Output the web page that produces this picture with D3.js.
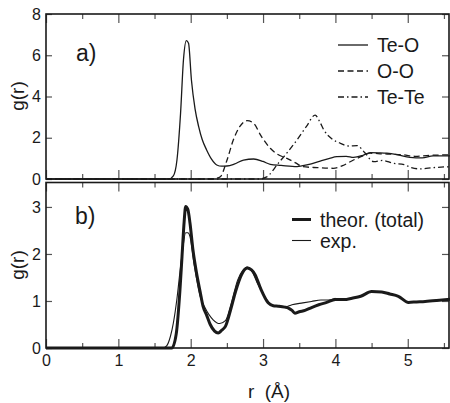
<!DOCTYPE html>
<html>
<head>
<meta charset="utf-8">
<script src="https://cdn.jsdelivr.net/npm/d3@7"></script>
<style>
  body { margin: 0; background: #fff; }
  svg { display: block; font-family: "Liberation Sans", Arial, sans-serif; }
</style>
</head>
<body>
<div id="chart"></div>
<script>
// panel a) partial pair correlations
const teoR = [0, 1.70, 1.76, 1.81, 1.86, 1.90, 1.94, 1.97, 2.01, 2.06, 2.11, 2.16, 2.22, 2.29, 2.36, 2.43, 2.50, 2.60, 2.73, 2.87, 3.00, 3.10, 3.25, 3.47, 3.62, 3.79, 3.92, 4.02, 4.15, 4.25, 4.38, 4.48, 4.60, 4.71, 4.85, 5.03, 5.20, 5.35, 5.60];
const teoG = [0, 0, 0.15, 0.92, 3.2, 5.78, 6.71, 6.58, 4.8, 3.4, 2.54, 1.9, 1.41, 0.95, 0.68, 0.62, 0.63, 0.72, 0.92, 0.97, 0.85, 0.71, 0.66, 0.60, 0.70, 0.87, 1.0, 1.08, 1.1, 1.05, 1.15, 1.28, 1.27, 1.25, 1.18, 1.05, 1.02, 1.12, 1.12];

const ooR = [0, 2.25, 2.35, 2.41, 2.50, 2.59, 2.68, 2.78, 2.87, 2.97, 3.10, 3.20, 3.33, 3.45, 3.55, 3.75, 3.97, 4.10, 4.25, 4.38, 4.48, 4.65, 4.80, 4.94, 5.10, 5.30, 5.60];
const ooG = [0, 0, 0.03, 0.11, 0.9, 1.9, 2.55, 2.83, 2.7, 2.1, 1.49, 1.2, 1.0, 0.78, 0.6, 0.55, 0.52, 0.65, 0.92, 1.12, 1.25, 1.22, 1.2, 1.17, 1.1, 1.15, 1.17];

const teteR = [0, 2.95, 3.05, 3.21, 3.35, 3.47, 3.60, 3.72, 3.78, 3.84, 3.95, 4.07, 4.18, 4.30, 4.40, 4.53, 4.65, 4.80, 4.95, 5.05, 5.17, 5.35, 5.60];
const teteG = [0, 0, 0.1, 0.76, 1.35, 1.9, 2.55, 3.1, 2.8, 2.38, 1.95, 1.73, 1.6, 1.62, 1.3, 0.84, 0.9, 0.76, 0.7, 0.55, 0.49, 0.55, 0.6];

// panel b) total g(r), theory vs experiment
const theorR = [0, 1.74, 1.80, 1.85, 1.88, 1.91, 1.93, 1.96, 1.99, 2.03, 2.08, 2.13, 2.17, 2.22, 2.27, 2.33, 2.38, 2.43, 2.48, 2.55, 2.62, 2.70, 2.78, 2.84, 2.89, 2.97, 3.07, 3.14, 3.21, 3.30, 3.35, 3.40, 3.44, 3.50, 3.58, 3.67, 3.77, 3.88, 4.00, 4.12, 4.23, 4.35, 4.50, 4.64, 4.75, 4.87, 5.01, 5.12, 5.24, 5.40, 5.60];
const theorG = [0, 0, 0.3, 1.2, 1.95, 2.7, 3.01, 2.95, 2.66, 2.1, 1.6, 1.2, 0.89, 0.7, 0.5, 0.36, 0.32, 0.38, 0.46, 0.8, 1.2, 1.55, 1.70, 1.66, 1.56, 1.25, 0.96, 0.9, 0.89, 0.87, 0.85, 0.8, 0.74, 0.77, 0.8, 0.86, 0.92, 0.97, 1.03, 1.03, 1.06, 1.1, 1.2, 1.19, 1.15, 1.1, 0.97, 0.98, 0.99, 1.01, 1.04];

const expR = [0, 1.62, 1.67, 1.72, 1.76, 1.81, 1.85, 1.89, 1.93, 1.96, 1.99, 2.05, 2.13, 2.20, 2.31, 2.40, 2.48, 2.56, 2.65, 2.72, 2.78, 2.85, 2.93, 3.02, 3.12, 3.22, 3.30, 3.40, 3.55, 3.67, 3.80, 3.90, 4.00];
const expG = [0, 0, 0.05, 0.25, 0.53, 1.05, 1.6, 2.1, 2.45, 2.45, 2.37, 1.75, 1.1, 0.85, 0.6, 0.52, 0.58, 0.95, 1.45, 1.65, 1.72, 1.62, 1.35, 1.1, 0.92, 0.88, 0.87, 0.92, 0.96, 0.99, 1.02, 1.02, 1.06];

const xTicks = [0, 1, 2, 3, 4, 5];
const xMinor = [0.5, 1.5, 2.5, 3.5, 4.5, 5.5];
const yTicksA = [0, 2, 4, 6, 8];
const yTicksB = [0, 1, 2, 3];

const W = 450, H = 403;
const ink = '#1a1a1a';
const svg = d3.select('#chart').append('svg').attr('width', W).attr('height', H);

const x = d3.scaleLinear().domain([0, 5.57]).range([46, 449]);
const yA = d3.scaleLinear().domain([0, 8]).range([179, 14]);
const yB = d3.scaleLinear().domain([0, 3.52]).range([348, 182.5]);

function zip(rs, gs) { return rs.map((r, i) => [r, gs[i]]); }

function panel(y, yTicks, showX) {
  const g = svg.append('g');
  const [y0, y1] = y.range();
  // ticks, all pointing inward
  g.append('g').attr('transform', 'translate(0,' + y0 + ')')
    .call(d3.axisBottom(x).tickValues(xTicks).tickSize(-9).tickPadding(7).tickFormat(showX ? d3.format('d') : ''));
  g.append('g').attr('transform', 'translate(0,' + y0 + ')')
    .call(d3.axisBottom(x).tickValues(xMinor).tickSize(-5).tickFormat(''));
  g.append('g').attr('transform', 'translate(0,' + y1 + ')')
    .call(d3.axisTop(x).tickValues(xTicks).tickSize(-9).tickFormat(''));
  g.append('g').attr('transform', 'translate(0,' + y1 + ')')
    .call(d3.axisTop(x).tickValues(xMinor).tickSize(-5).tickFormat(''));
  g.append('g').attr('transform', 'translate(' + x.range()[0] + ',0)')
    .call(d3.axisLeft(y).tickValues(yTicks).tickSize(-6).tickPadding(5).tickFormat(d3.format('d')));
  g.append('g').attr('transform', 'translate(' + x.range()[1] + ',0)')
    .call(d3.axisRight(y).tickValues(yTicks).tickSize(-7).tickFormat(''));
  g.selectAll('.domain').remove();
  g.selectAll('.tick line').attr('stroke', '#555').attr('stroke-width', 1.2);
  g.selectAll('.tick text').attr('font-size', 16).attr('fill', ink)
    .attr('font-family', '"Liberation Sans", Arial, sans-serif');
  g.append('rect')
    .attr('x', x.range()[0]).attr('y', y1)
    .attr('width', x.range()[1] - x.range()[0]).attr('height', y0 - y1)
    .attr('fill', 'none').attr('stroke', ink).attr('stroke-width', 1.6);
  return g;
}

const pa = panel(yA, yTicksA, false);
const pb = panel(yB, yTicksB, true);

const lineA = d3.line().x(d => x(d[0])).y(d => yA(d[1])).curve(d3.curveMonotoneX);
const lineB = d3.line().x(d => x(d[0])).y(d => yB(d[1])).curve(d3.curveMonotoneX);

const seriesA = [
  { name: 'Te-O', data: zip(teoR, teoG), dash: null },
  { name: 'O-O', data: zip(ooR, ooG), dash: '6,3.5' },
  { name: 'Te-Te', data: zip(teteR, teteG), dash: '6,3,1.5,3' }
];
seriesA.forEach(s => {
  pa.append('path').attr('d', lineA(s.data)).attr('fill', 'none')
    .attr('stroke', ink).attr('stroke-width', 1.3)
    .attr('stroke-dasharray', s.dash);
});

pb.append('path').attr('d', lineB(zip(expR, expG))).attr('fill', 'none')
  .attr('stroke', ink).attr('stroke-width', 1.1);
pb.append('path').attr('d', lineB(zip(theorR, theorG))).attr('fill', 'none')
  .attr('stroke', ink).attr('stroke-width', 3);

// legend a)
seriesA.forEach((s, i) => {
  const ly = 45 + i * 26;
  pa.append('line').attr('x1', 338).attr('x2', 368).attr('y1', ly).attr('y2', ly)
    .attr('stroke', ink).attr('stroke-width', 1.3).attr('stroke-dasharray', s.dash);
  pa.append('text').attr('x', 377).attr('y', ly + 7).attr('font-size', 19.5)
    .attr('fill', ink).text(s.name);
});

// legend b)
const legB = [{ name: 'theor. (total)', w: 3 }, { name: 'exp.', w: 1.1 }];
legB.forEach((s, i) => {
  const ly = 219.5 + i * 21;
  pb.append('line').attr('x1', 292).attr('x2', 311).attr('y1', ly).attr('y2', ly)
    .attr('stroke', ink).attr('stroke-width', s.w);
  pb.append('text').attr('x', 320).attr('y', ly + 7).attr('font-size', 19.5)
    .attr('fill', ink).text(s.name);
});

// panel labels
svg.append('text').attr('x', 76).attr('y', 61).attr('font-size', 23).attr('fill', ink).text('a)');
svg.append('text').attr('x', 75).attr('y', 224).attr('font-size', 23).attr('fill', ink).text('b)');

// axis titles
[[96, 'g(r)'], [265, 'g(r)']].forEach(([cy, t]) => {
  svg.append('text').attr('transform', 'translate(24,' + cy + ') rotate(-90)')
    .attr('text-anchor', 'middle').attr('font-size', 19).attr('fill', ink).text(t);
});
svg.append('text').attr('x', 269).attr('y', 398).attr('text-anchor', 'middle')
  .attr('font-size', 19).attr('fill', ink).attr('xml:space', 'preserve').text('r  (Å)');
</script>
</body>
</html>
